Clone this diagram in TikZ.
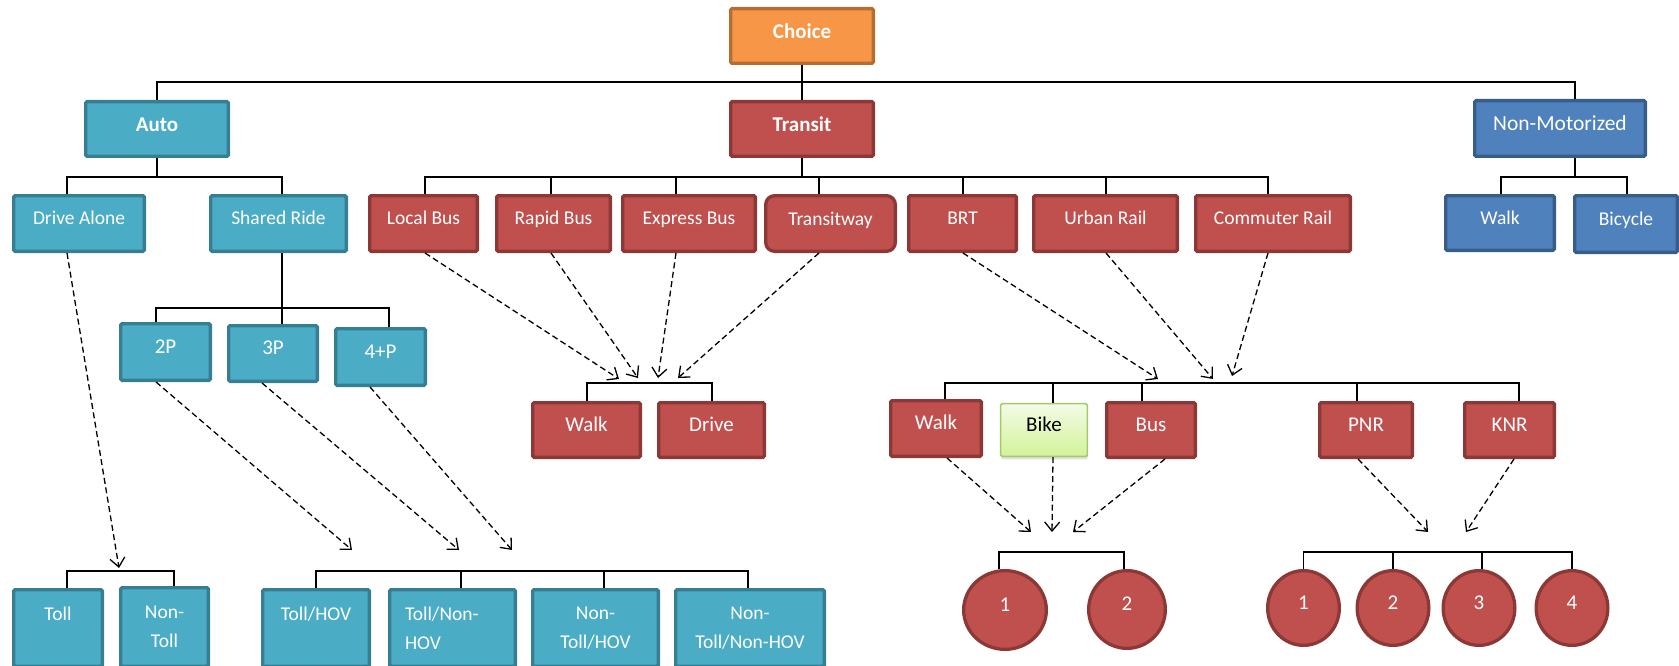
\documentclass[tikz,border=0pt]{standalone}
\usepackage{fontspec}
\setmainfont{Carlito}
\usetikzlibrary{arrows.meta,shadows,shapes.geometric}
\definecolor{tealF}{HTML}{4BACC6}
\definecolor{tealD}{HTML}{367F93}
\definecolor{redF}{HTML}{C0504D}
\definecolor{redD}{HTML}{8C3836}
\definecolor{blueF}{HTML}{4F81BD}
\definecolor{blueD}{HTML}{385D8A}
\definecolor{orF}{HTML}{F79646}
\definecolor{orD}{HTML}{B66D31}
\definecolor{bikeTop}{HTML}{F3FBE6}
\definecolor{bikeBot}{HTML}{D3F39A}
\definecolor{bikeD}{HTML}{A3C96A}
\begin{document}
\begin{tikzpicture}[x=1pt,y=-1pt,
  base/.style={draw, line width=3.3pt, rounded corners=1.5pt, text=white, inner sep=0pt},
  one/.style={text height=0.66em, text depth=0.4em},
  sz/.style 2 args={minimum width={#1pt-3.3pt}, minimum height={#2pt-3.3pt}},
  tbox/.style={base, fill=tealF, draw=tealD},
  rbox/.style={base, fill=redF, draw=redD},
  bbox/.style={base, fill=blueF, draw=blueD},
  obox/.style={base, fill=orF, draw=orD},
  gbox/.style={base, draw=bikeD, line width=1.6pt, top color=bikeTop, bottom color=bikeBot, text=black,
     drop shadow={shadow xshift=0.5pt, shadow yshift=-3pt, opacity=0.25}},
  rcirc/.style={ellipse, draw=redD, fill=redF, line width=3.3pt, text=white, inner sep=0pt, one, lfont},
  sfont/.style={font=\fontsize{19.5}{24}\selectfont, one},
  lfont/.style={font=\fontsize{21}{25}\selectfont, one},
  bfont/.style={font=\fontsize{21}{25}\selectfont\bfseries, text height=0.66em, text depth=0.12em},
  twol/.style={font=\fontsize{19.5}{29}\selectfont, align=center},
  conn/.style={line width=1.5pt, black},
  darrow/.style={line width=1.3pt, dash pattern=on 6pt off 3.5pt,
     -{Straight Barb[length=9pt,width=15pt,line width=1.3pt]}}
]
\useasboundingbox (0,0) rectangle (1679,666);

% ---- top levels
\node[obox,bfont,sz={146}{58}] (choice) at (802,36) {Choice};
\node[tbox,bfont,sz={146}{58}] (auto) at (157,129) {Auto};
\node[rbox,bfont,sz={146}{58}] (transit) at (802,129) {Transit};
\node[bbox,font=\fontsize{21.5}{25}\selectfont,text height=0.66em,text depth=0.3em,sz={174}{59}] (nm) at (1560,128.5) {Non-Motorized};

% ---- level 2
\node[tbox,sfont,sz={134}{59}] (da) at (79,223.5) {Drive Alone};
\node[tbox,sfont,sz={139}{59}] (sr) at (278.5,223.5) {Shared Ride};
\node[rbox,sfont,sz={111}{59}] (lb) at (423.5,223.5) {Local Bus};
\node[rbox,sfont,sz={117}{59}] (rb) at (553.5,223.5) {Rapid Bus};
\node[rbox,sfont,sz={136}{59}] (eb) at (689,223.5) {Express Bus};
\node[rbox,sfont,sz={133}{59},rounded corners=9pt,text depth=0.25em] (tw) at (830.5,223.5) {Transitway};
\node[rbox,sfont,sz={111}{59}] (brt) at (962.5,223.5) {BRT};
\node[rbox,sfont,sz={147}{59}] (ur) at (1105.5,223.5) {Urban Rail};
\node[rbox,sfont,sz={158}{59}] (cr) at (1273,223.5) {Commuter Rail};
\node[bbox,sfont,sz={112}{58}] (nmw) at (1500,223) {Walk};
\node[bbox,sfont,sz={106}{60}] (bic) at (1626,224) {Bicycle};

% ---- level 3
\node[tbox,lfont,sz={93}{60}] (p2) at (165.5,352) {2P};
\node[tbox,lfont,sz={92}{59}] (p3) at (273,353.5) {3P};
\node[tbox,lfont,sz={93}{60}] (p4) at (380.5,357) {4+P};
\node[rbox,lfont,sz={111}{58}] (twa) at (586.5,430) {Walk};
\node[rbox,lfont,sz={109}{58}] (td) at (711.5,430) {Drive};
\node[rbox,lfont,sz={94}{59}] (rw) at (936,428.5) {Walk};
\node[gbox,lfont,sz={90}{56}] (bike) at (1044,430) {Bike};
\node[rbox,lfont,sz={92}{58}] (bus) at (1151,430) {Bus};
\node[rbox,lfont,sz={96}{58}] (pnr) at (1366,430) {PNR};
\node[rbox,lfont,sz={93}{58}] (knr) at (1509.5,430) {KNR};

% ---- bottom
\node[tbox,twol,sz={92}{80}] (toll) at (58,628) {Toll\\\mbox{}};
\node[tbox,twol,sz={91}{82}] (ntoll) at (164.5,627) {Non-\\Toll};
\node[tbox,twol,sz={110}{80}] (thov) at (316,628) {Toll/HOV\\\mbox{}};
\node[tbox,twol,align=left,text width=95pt,sz={129}{80}] (tnh) at (452.5,628) {Toll/Non-\\HOV};
\node[tbox,twol,sz={129}{80}] (nth) at (595.5,628) {Non-\\Toll/HOV};
\node[tbox,twol,sz={152}{80}] (ntnh) at (750,628) {Non-\\Toll/Non-HOV};

\node[rcirc,sz={86}{82}] (c1) at (1005,610) {1};
\node[rcirc,sz={80}{81}] (c2) at (1127,609.5) {2};
\node[rcirc,sz={75}{78}] (d1) at (1303.5,608) {1};
\node[rcirc,sz={75}{78}] (d2) at (1393,608) {2};
\node[rcirc,sz={75}{78}] (d3) at (1479,608) {3};
\node[rcirc,sz={75}{78}] (d4) at (1572,608) {4};

% ---- tree connectors
\coordinate (b0) at (802,82);
\draw[conn] (choice.south) -- (transit.north);
\draw[conn] (auto.north) |- (b0) -| ([xshift=15pt]nm.north);

\coordinate (b1) at (157,177);
\draw[conn] (auto.south) -- (b1);
\draw[conn] ([xshift=-12pt]da.north) |- (b1) -| ([xshift=3.5pt]sr.north);

\coordinate (b2) at (802,177);
\draw[conn] (transit.south) -- (b2);
\draw[conn] ([xshift=1.5pt]lb.north) |- (b2) -| ([xshift=-5pt]cr.north);
\foreach \n/\s in {rb/-2.5pt, eb/-13pt, tw/-11.5pt, brt/0.5pt, ur/0.5pt}
  \draw[conn] ([xshift=\s]\n.north) -- ([xshift=\s]\n.north |- b2);

\coordinate (b3) at (1575,177);
\draw[conn] ([xshift=15pt]nm.south) -- (b3);
\draw[conn] ([xshift=1pt]nmw.north) |- (b3) -| ([xshift=1pt]bic.north);

\coordinate (b4) at (282,308);
\draw[conn] ([xshift=3.5pt]sr.south) -- ([xshift=9pt]p3.north);
\draw[conn] ([xshift=-9.5pt]p2.north) |- (b4) -| ([xshift=8.5pt]p4.north);

\coordinate (b5) at (650,383);
\draw[conn] ([xshift=0.5pt]twa.north) |- (b5) -| ([xshift=0.5pt]td.north);

\coordinate (b6) at (1200,383);
\draw[conn] ([xshift=9pt]rw.north) |- (b6) -| ([xshift=9.5pt]knr.north);
\foreach \n/\s in {bike/9pt, bus/-9pt, pnr/-9pt}
  \draw[conn] ([xshift=\s]\n.north) -- ([xshift=\s]\n.north |- b6);

\coordinate (b7) at (120,571);
\draw[conn] ([xshift=9pt]toll.north) |- (b7) -| ([xshift=9.5pt]ntoll.north);

\coordinate (b8) at (530,571);
\draw[conn] (thov.north) |- (b8) -| ([xshift=-2pt]ntnh.north);
\foreach \n/\s in {tnh/8.5pt, nth/8.5pt}
  \draw[conn] ([xshift=\s]\n.north) -- ([xshift=\s]\n.north |- b8);

\coordinate (b9) at (1060,552);
\draw[conn] ([xshift=-6pt]c1.north) |- (b9) -| ([xshift=-3pt]c2.north);

\coordinate (b10) at (1440,552);
\draw[conn] (d1.north) |- (b10) -| (d4.north);
\draw[conn] (d2.north) -- (d2.north |- b10);
\draw[conn] ([xshift=3pt]d3.north) -- ([xshift=3pt]d3.north |- b10);

% ---- dashed arrows
\coordinate (t1) at (119,568);
\coordinate (t2) at (352,550);
\coordinate (t3) at (459,550);
\coordinate (t4) at (512,550);
\coordinate (t5) at (619,379);
\coordinate (t6) at (638,378);
\coordinate (t7) at (658,378);
\coordinate (t8) at (678,378);
\coordinate (t9) at (1158,379);
\coordinate (t10) at (1213,379);
\coordinate (t11) at (1232,376);
\coordinate (t12) at (1031,532);
\coordinate (t13) at (1052,532);
\coordinate (t14) at (1073,532);
\coordinate (t15) at (1428,532);
\coordinate (t16) at (1466,532);

\draw[darrow] ([xshift=-12pt]da.south) -- (t1);
\draw[darrow] ([xshift=-9.5pt]p2.south) -- (t2);
\draw[darrow] ([xshift=-11pt]p3.south) -- (t3);
\draw[darrow] ([xshift=-10.5pt]p4.south) -- (t4);
\draw[darrow] ([xshift=1.5pt]lb.south) -- (t5);
\draw[darrow] ([xshift=-2.5pt]rb.south) -- (t6);
\draw[darrow] ([xshift=-13pt]eb.south) -- (t7);
\draw[darrow] ([xshift=-11.5pt]tw.south) -- (t8);
\draw[darrow] ([xshift=0.5pt]brt.south) -- (t9);
\draw[darrow] ([xshift=0.5pt]ur.south) -- (t10);
\draw[darrow] ([xshift=-5pt]cr.south) -- (t11);
\draw[darrow] ([xshift=11pt]rw.south) -- (t12);
\draw[darrow] ([xshift=9pt]bike.south) -- (t13);
\draw[darrow] ([xshift=14pt]bus.south) -- (t14);
\draw[darrow] ([xshift=-8pt]pnr.south) -- (t15);
\draw[darrow] ([xshift=4.5pt]knr.south) -- (t16);
\end{tikzpicture}
\end{document}
